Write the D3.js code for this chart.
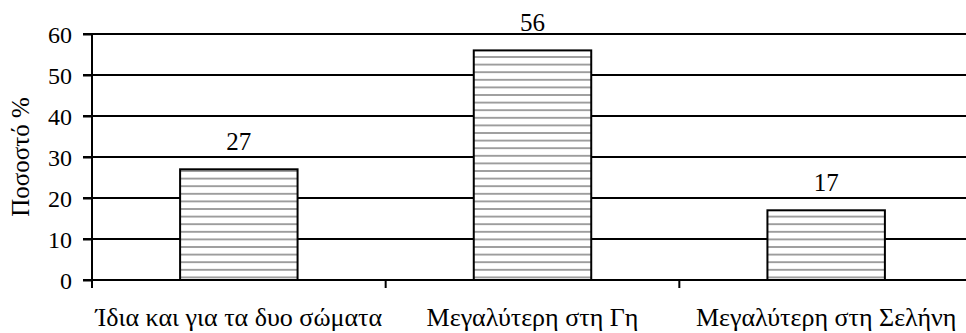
<!DOCTYPE html>
<html><head><meta charset="utf-8">
<script src="https://cdn.jsdelivr.net/npm/d3@7"></script>
<style>body{margin:0;background:#fff}svg{display:block}svg text{font-family:"Liberation Serif","Times New Roman",serif}</style>
</head><body><svg id="c" width="966" height="333"></svg>
<script>
const categories = ["Ίδια και για τα δυο σώματα", "Μεγαλύτερη στη Γη", "Μεγαλύτερη στη Σελήνη"];
const values = [27, 56, 17];
const yTicks = [0, 10, 20, 30, 40, 50, 60];
const yTitle = "Ποσοστό %";

const svg = d3.select("#c");
const x0 = 92, x1 = 973, yBottom = 280, yTop = 34;
const x = d3.scaleBand().domain(categories).range([x0, x1]).paddingInner(0.6).paddingOuter(0.3);
const y = d3.scaleLinear().domain([0, 60]).range([yBottom, yTop]);

const defs = svg.append("defs");
const pat = defs.append("pattern").attr("id", "hstripe").attr("patternUnits", "userSpaceOnUse")
  .attr("width", 10).attr("height", 7.6);
pat.append("rect").attr("width", 10).attr("height", 7.6).attr("fill", "#fff");
pat.append("rect").attr("y", 3).attr("width", 10).attr("height", 1.6).attr("fill", "#8c8c8c");

// gridlines
svg.append("g").selectAll("line").data(yTicks.filter(d => d > 0)).join("line")
  .attr("x1", 83).attr("x2", 966).attr("y1", d => y(d)).attr("y2", d => y(d))
  .attr("stroke", "#000").attr("stroke-width", 2);

// bars
svg.append("g").selectAll("rect").data(values).join("rect")
  .attr("x", (d, i) => x(categories[i])).attr("width", x.bandwidth())
  .attr("y", d => y(d)).attr("height", d => yBottom - y(d))
  .attr("fill", "url(#hstripe)").attr("stroke", "#000").attr("stroke-width", 2);

// value labels
svg.append("g").selectAll("text").data(values).join("text")
  .attr("x", (d, i) => x(categories[i]) + x.bandwidth() / 2).attr("y", d => y(d) - 19)
  .attr("text-anchor", "middle").style("font-size", "25px").text(d => d);

// y axis
const ya = svg.append("g").attr("transform", `translate(${x0},0)`)
  .call(d3.axisLeft(y).tickValues(yTicks).tickSize(9).tickPadding(11));
ya.attr("font-family", null).attr("font-size", null);
ya.select(".domain").attr("stroke", "#000").attr("stroke-width", 2).attr("d", `M0,${yTop}V${yBottom + 8}`);
ya.selectAll(".tick line").attr("stroke", "#000").attr("stroke-width", 2);
ya.selectAll(".tick text").style("font-size", "24px").attr("fill", "#000").attr("dy", "0.34em");

// x axis
const bounds = [x0, x0 + x.step(), x0 + 2 * x.step(), x0 + 3 * x.step()];
svg.append("line").attr("x1", 83).attr("x2", 966).attr("y1", yBottom).attr("y2", yBottom)
  .attr("stroke", "#000").attr("stroke-width", 2);
svg.append("g").selectAll("line").data(bounds.slice(1)).join("line")
  .attr("x1", d => d).attr("x2", d => d).attr("y1", yBottom).attr("y2", yBottom + 8)
  .attr("stroke", "#000").attr("stroke-width", 2);
svg.append("g").selectAll("text").data(categories).join("text")
  .attr("x", d => x(d) + x.bandwidth() / 2).attr("y", 326)
  .attr("text-anchor", "middle").style("font-size", "26px").text(d => d);

// y title
svg.append("text").attr("transform", "translate(29,157) rotate(-90)")
  .attr("text-anchor", "middle").style("font-size", "25px").text(yTitle);
</script></body></html>
